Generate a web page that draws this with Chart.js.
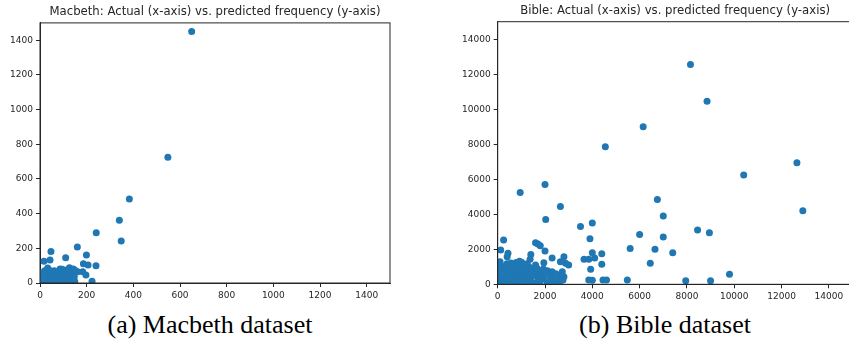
<!DOCTYPE html>
<html>
<head>
<meta charset="utf-8">
<script src="https://cdn.jsdelivr.net/npm/chart.js@4.4.1/dist/chart.umd.min.js"></script>
<style>
  html, body { margin: 0; padding: 0; background: #fff; overflow: hidden; width: 849px; height: 349px; }
  .plot { position: absolute; top: 0; }
  .caption { position: absolute; top: 312px; font: 26px 'Liberation Serif', serif; line-height: 26px; color: #000; white-space: nowrap; transform: translateX(-50%); }
</style>
</head>
<body>
<div class="plot" style="left:0px"><canvas id="macbeth" width="400" height="300"></canvas></div>
<div class="plot" style="left:420px"><canvas id="bible" width="445" height="300"></canvas></div>
<div class="caption" style="left:210px">(a) Macbeth dataset</div>
<div class="caption" style="left:665px">(b) Bible dataset</div>
<script>
const macbethTicks = [0, 200, 400, 600, 800, 1000, 1200, 1400];
const bibleTicks = [0, 2000, 4000, 6000, 8000, 10000, 12000, 14000];

// Macbeth: actual frequency (x) and predicted frequency (y)
const macbethActual = [
  650, 548, 383, 340, 348, 241, 160, 47, 17, 43, 110, 199, 186, 206, 240, 33, 86, 126, 143, 183, 161, 197, 223,
  2, 5, 8, 4, 14, 18, 22, 26, 28, 31, 36, 38, 42, 46, 49, 53, 56, 59, 63, 66, 69, 73, 76, 79, 83, 87, 89, 93, 96,
  99, 103, 106, 109, 113, 116, 119, 122, 126, 129, 133, 136, 139, 143, 147, 151, 20, 61, 96, 118, 142, 149, 101,
  40, 138, 10, 54, 80
];
const macbethPredicted = [
  1450, 725, 485, 362, 242, 290, 208, 182, 125, 133, 146, 161, 111, 104, 99, 86, 81, 88, 81, 65, 65, 46, 10,
  5, 22, 42, 58, 12, 33, 50, 4, 24, 62, 14, 38, 53, 3, 27, 62, 16, 42, 7, 31, 55, 19, 41, 4, 28, 60, 12, 46, 26,
  5, 36, 68, 16, 51, 3, 31, 62, 11, 43, 23, 74, 6, 57, 36, 72, 70, 70, 79, 76, 14, 8, 57,
  74, 27, 30, 48, 68
];

// Bible: actual frequency (x) and predicted frequency (y)
const bibleActual = [
  8150, 8850, 6150, 4550, 12650, 10400, 12900, 950, 2000, 2030, 2650, 3500, 4000, 3900, 6750, 7000, 6000, 7000,
  8450, 8950, 5600, 6650, 7400, 6450, 9800, 7950, 9000, 5480, 4450, 4600, 3850, 4000, 3650, 3850, 4100, 4000,
  4400, 4400, 3930, 250, 127, 435, 1600, 1700, 1800, 2000, 1400, 1370, 2300, 2800, 2650, 2870, 3000, 1950, 1600,
  2100, 2300, 2730, 2800, 2450, 400, 100,
  40, 290, 560, 810, 1040, 1310, 1560, 1790, 2090, 2340, 2610,
  160, 410, 640, 910, 1160, 1390, 1690, 1960, 2240, 2520, 2760,
  70, 340, 590, 820, 1090, 1340, 1610, 1840, 2190, 2660,
  210, 440, 710, 960, 1210, 1440, 1760, 2040, 2460,
  110, 360, 610, 860, 1090, 1340, 1650, 1930,
  50, 390, 780, 920, 1010, 560, 1250,
  20, 20, 1500, 1200, 700, 900
];
const biblePredicted = [
  12550, 10450, 9000, 7850, 6950, 6250, 4200, 5250, 5700, 3700, 4450, 3300, 3500, 2600, 4850, 3900, 2850, 2700,
  3100, 2950, 2050, 2000, 1800, 1200, 580, 200, 200, 250, 250, 250, 250, 230, 1430, 1430, 1500, 1800,
  1750, 1150, 860, 2530, 1960, 1770, 2380, 2300, 2200, 1900, 1700, 1430, 1500, 1580, 1290, 1200, 1100, 1230, 1100,
  780, 720, 720, 430, 340, 1580, 1290,
  90, 110, 70, 120, 80, 100, 60, 130, 90, 60, 110,
  360, 330, 380, 340, 370, 320, 360, 300, 380, 310, 240,
  610, 580, 630, 590, 620, 570, 640, 520, 560, 470,
  860, 830, 880, 840, 870, 810, 700, 640, 600,
  1100, 1070, 1120, 1090, 1130, 980, 930, 880,
  1220, 1180, 1240, 1320, 1260, 1210, 1180,
  400, 800, 520, 250, 200, 520
];

const ink = '#262626';
const dotColor = '#1f77b4';

// matplotlib style: a full box around the axes, title centred over the axes
const boxPlugin = {
  id: 'box',
  afterDraw(chart, args, opts) {
    const a = chart.chartArea, ctx = chart.ctx;
    ctx.save();
    ctx.strokeStyle = ink;
    ctx.lineWidth = 1;
    ctx.strokeRect(a.left, a.top, a.right - a.left, a.bottom - a.top);
    ctx.fillStyle = ink;
    ctx.font = '11.7px "DejaVu Sans"';
    ctx.textAlign = 'center';
    ctx.textBaseline = 'middle';
    ctx.fillText(opts.text, (a.left + a.right) / 2, opts.y);
    ctx.restore();
  }
};

function axis(max, ticks, size) {
  return {
    type: 'linear',
    min: 0,
    max: max,
    afterBuildTicks: s => { s.ticks = ticks.map(v => ({ value: v })); },
    afterFit: s => { if (s.isHorizontal()) s.height = size; else s.width = size; },
    grid: { drawOnChartArea: false, drawTicks: true, tickLength: 4, color: ink },
    border: { display: true, color: ink, width: 1 },
    ticks: {
      color: ink,
      padding: 3,
      maxRotation: 0,
      autoSkip: false,
      font: { family: 'DejaVu Sans', size: 9 },
      callback: v => String(v)
    }
  };
}

function drawScatter(id, title, xs, ys, max, ticks, yWidth, xHeight, top, titleY, rightPad) {
  const points = xs.map((x, i) => ({ x: x, y: ys[i] }));
  new Chart(document.getElementById(id), {
    type: 'scatter',
    data: {
      datasets: [{
        data: points,
        pointRadius: 3.5,
        pointHoverRadius: 3.5,
        pointBackgroundColor: dotColor,
        pointBorderWidth: 0
      }]
    },
    options: {
      responsive: false,
      animation: false,
      layout: { padding: { left: 0, right: rightPad, top: top, bottom: 0 } },
      plugins: {
        legend: { display: false },
        tooltip: { enabled: false },
        title: { display: false },
        box: { text: title, y: titleY }
      },
      scales: {
        x: axis(max, ticks, xHeight),
        y: axis(max, ticks, yWidth)
      }
    },
    plugins: [boxPlugin]
  });
}

drawScatter('macbeth', 'Macbeth: Actual (x-axis) vs. predicted frequency (y-axis)',
  macbethActual, macbethPredicted, 1500, macbethTicks, 40, 17, 22.9, 12, 10);
drawScatter('bible', 'Bible: Actual (x-axis) vs. predicted frequency (y-axis)',
  bibleActual, biblePredicted, 15000, bibleTicks, 77.7, 15.7, 21.7, 10.8, 12.5);
</script>
</body>
</html>
